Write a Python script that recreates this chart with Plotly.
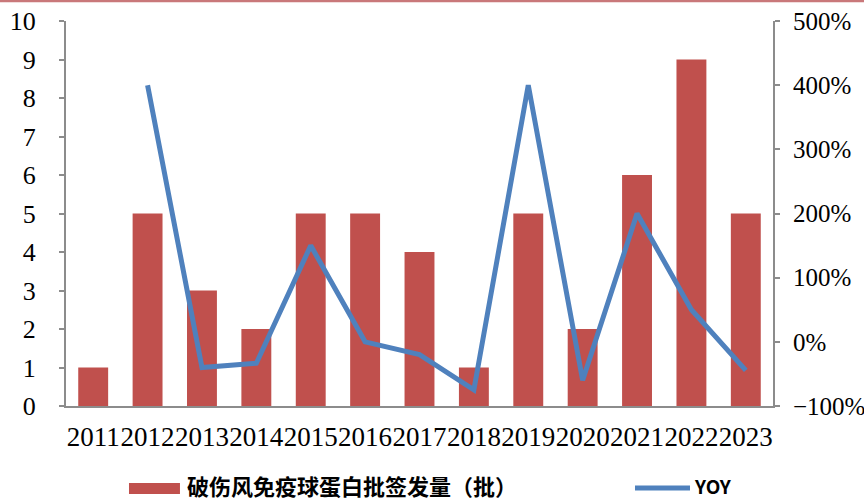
import plotly.graph_objects as go

# Annual batch releases of tetanus immunoglobulin and year-over-year change
years = ["2011", "2012", "2013", "2014", "2015", "2016", "2017",
         "2018", "2019", "2020", "2021", "2022", "2023"]
batches = [1, 5, 3, 2, 5, 5, 4, 1, 5, 2, 6, 9, 5]
yoy_years = ["2012", "2013", "2014", "2015", "2016", "2017",
             "2018", "2019", "2020", "2021", "2022", "2023"]
yoy = [4.00, -0.40, -0.333, 1.50, 0.00, -0.20, -0.75, 4.00, -0.60, 2.00, 0.50, -0.444]

bar_name = "破伤风免疫球蛋白批签发量（批）"
line_name = "YOY"
bar_color = "#c0504d"
line_color = "#4f81bd"
axis_color = "#8c8c8c"
serif = "Liberation Serif, Times New Roman, serif"
x_font = dict(family=serif, size=27, color="#000000")
y_font = dict(family=serif, size=26, color="#000000")
y2_font = dict(family=serif, size=25, color="#000000")

fig = go.Figure()
fig.add_trace(go.Bar(x=years, y=batches, name=bar_name, marker_color=bar_color,
                     marker_line_width=0, yaxis="y"))
fig.add_trace(go.Scatter(x=yoy_years, y=yoy, name=line_name, mode="lines",
                         line=dict(color=line_color, width=5), yaxis="y2"))

fig.update_layout(
    width=864, height=500,
    margin=dict(l=66, r=91, t=21, b=94),
    paper_bgcolor="white", plot_bgcolor="white",
    showlegend=False,
    bargap=0.45,
    xaxis=dict(type="category", showgrid=False, showline=True, linecolor=axis_color,
               linewidth=2, ticks="", tickfont=x_font, tickangle=0,
               ticklabelstandoff=6, automargin=False),
    yaxis=dict(range=[0, 10], dtick=1, showgrid=False, showline=True, linecolor=axis_color,
               linewidth=2, ticks="outside", ticklen=5, tickcolor=axis_color, tickwidth=2,
               tickfont=y_font, zeroline=False, ticklabelstandoff=18, automargin=False),
    yaxis2=dict(range=[-1, 5], dtick=1, tickformat=".0%", overlaying="y", side="right",
                showgrid=False, showline=True, linecolor=axis_color, linewidth=2,
                ticks="outside", ticklen=5, tickcolor=axis_color, tickwidth=2,
                tickfont=y2_font, zeroline=False, ticklabelstandoff=8, automargin=False),
)

# Thin red rule along the top edge of the page
fig.add_shape(type="line", xref="paper", yref="paper", x0=-0.1, x1=1.2, y0=1.0525, y1=1.0525,
              line=dict(color="#c9787a", width=3))

# Legend drawn below the plot area
fig.add_shape(type="rect", xref="paper", yref="paper", x0=0.0891, x1=0.1612,
              y0=-0.2286, y1=-0.200, fillcolor=bar_color, line_width=0)
fig.add_annotation(xref="paper", yref="paper", x=0.1697, y=-0.206, xanchor="left",
                   yanchor="middle", showarrow=False, text="<b>" + bar_name + "</b>",
                   font=dict(family="Noto Sans CJK SC", size=22, color="#000000"),
                   borderpad=0)
fig.add_shape(type="line", xref="paper", yref="paper", x0=0.8048, x1=0.8826,
              y0=-0.213, y1=-0.213, line=dict(color=line_color, width=5))
fig.add_annotation(xref="paper", yref="paper", x=0.8868, y=-0.206, xanchor="left",
                   yanchor="middle", showarrow=False, text="<b>" + line_name + "</b>",
                   font=dict(family="Noto Sans CJK SC", size=19, color="#000000"),
                   borderpad=0)

fig.write_html("out.html")
